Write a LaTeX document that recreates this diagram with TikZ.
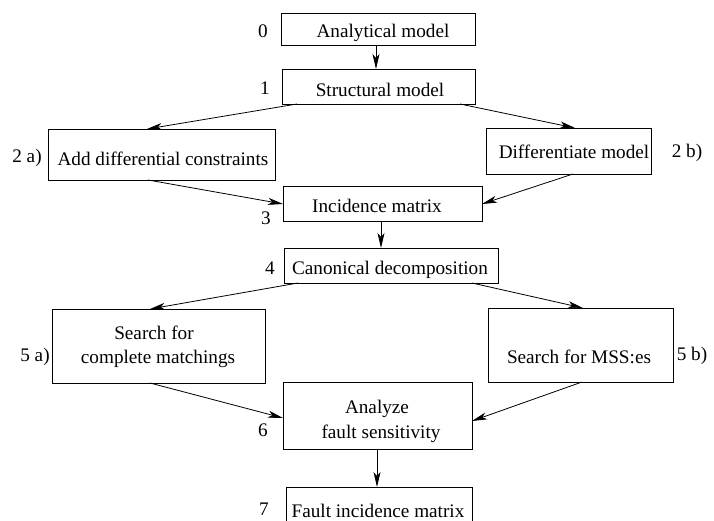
\documentclass[tikz,border=0pt]{standalone}
\usepackage{fontspec}
\setmainfont{Liberation Serif}
\usetikzlibrary{arrows.meta}
\tikzset{
  box/.style={draw, line width=0.9pt, rectangle, inner sep=0pt, outer sep=0pt},
  txt/.style={inner sep=0pt, anchor=base, font=\fontsize{19.2}{24}\selectfont},
  num/.style={inner sep=0pt, anchor=base, font=\fontsize{19.2}{24}\selectfont},
  arr/.style={line width=0.8pt, -{Stealth[length=15pt, width=7pt, inset=4pt]}}
}
\begin{document}
\begin{tikzpicture}[x=1pt, y=-1pt]
\useasboundingbox (0,0) rectangle (714,521);
\clip (0,0) rectangle (714,521);

% boxes
\node[box, minimum width=194, minimum height=32] (b0)  at (378,29)    {};
\node[box, minimum width=193, minimum height=35] (b1)  at (378.5,86.5) {};
\node[box, minimum width=227, minimum height=51] (b2a) at (161.5,154.5) {};
\node[box, minimum width=165, minimum height=46] (b2b) at (568.5,151) {};
\node[box, minimum width=199, minimum height=35] (b3)  at (382.5,203.5) {};
\node[box, minimum width=214, minimum height=35] (b4)  at (391,265.5) {};
\node[box, minimum width=213, minimum height=74] (b5a) at (158.5,346) {};
\node[box, minimum width=185, minimum height=74] (b5b) at (580.5,345) {};
\node[box, minimum width=189, minimum height=67] (b6)  at (377.5,415.5) {};
\node[box, minimum width=186, minimum height=70] (b7)  at (379,522) {};

% box texts
\node[txt] (t0)  at (383,38)  {Analytical model};
\node[txt] (t1)  at (380,97)  {Structural model};
\node[txt] (t2a) at (163,166) {Add differential constraints};
\node[txt] (t2b) at (574,159) {Differentiate model};
\node[txt] (t3)  at (377,213) {Incidence matrix};
\node[txt] (t4)  at (390,274) {Canonical decomposition};
\node[txt] (t5a1) at (154,339) {Search for};
\node[txt] (t5a2) at (158,363) {complete matchings};
\node[txt] (t5b) at (579,363) {Search for MSS:es};
\node[txt] (t61) at (377,413) {Analyze};
\node[txt] (t62) at (381,438) {fault sensitivity};
\node[txt] (t7)  at (378,517) {Fault incidence matrix};

% step numbers
\node[num] (n0)  at (263,38)  {0};
\node[num] (n1)  at (265,95)  {1};
\node[num] (n2a) at (27,163)  {2 a)};
\node[num] (n2b) at (687,158) {2 b)};
\node[num] (n3)  at (266,225) {3};
\node[num] (n4)  at (270,274) {4};
\node[num] (n5a) at (35,361)  {5 a)};
\node[num] (n5b) at (692,360) {5 b)};
\node[num] (n6)  at (263,436) {6};
\node[num] (n7)  at (264,515) {7};

% connectors
\draw[arr] ([xshift=-2pt]b0.south) -- ([xshift=-2.5pt]b1.north);
\draw[arr] ([xshift=15pt]b1.south west) -- ([xshift=-14.5pt]b2a.north);
\draw[arr] ([xshift=-15pt]b1.south east) -- ([xshift=6.5pt]b2b.north);
\draw[arr] ([xshift=-13.5pt]b2a.south) -- ([yshift=-0.5pt]b3.west);
\draw[arr] ([xshift=4.5pt]b2b.south) -- ([yshift=-0.5pt]b3.east);
\draw[arr] ([xshift=-1.5pt]b3.south) -- ([xshift=-10pt]b4.north);
\draw[arr] ([xshift=14pt]b4.south west) -- ([xshift=-8.5pt]b5a.north);
\draw[arr] ([xshift=-26pt]b4.south east) -- ([xshift=2.5pt]b5b.north);
\draw[arr] ([xshift=-8.5pt]b5a.south) -- ([yshift=-2.5pt]b6.west);
\draw[arr] ([xshift=1.5pt]b5b.south) -- ([yshift=-5.5pt]b6.east);
\draw[arr] ([xshift=-0.5pt]b6.south) -- ([xshift=-2pt]b7.north);
\end{tikzpicture}
\end{document}
